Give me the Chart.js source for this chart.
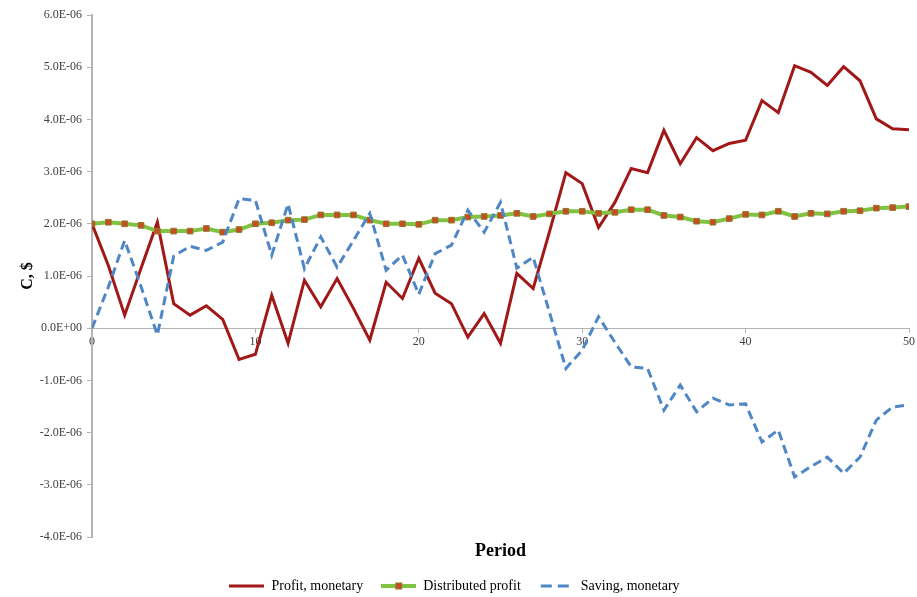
<!DOCTYPE html>
<html>
<head>
<meta charset="utf-8">
<title>Profit and saving by period</title>
<script src="https://cdn.jsdelivr.net/npm/chart.js@4.4.1/dist/chart.umd.min.js"></script>
<style>
  html, body { margin: 0; padding: 0; background: #ffffff; }
  canvas { display: block; }
</style>
</head>
<body>
<canvas id="chart" width="917" height="597"></canvas>
<script>
// Period index (x axis)
const periods = [0, 1, 2, 3, 4, 5, 6, 7, 8, 9, 10,
  11, 12, 13, 14, 15, 16, 17, 18, 19, 20,
  21, 22, 23, 24, 25, 26, 27, 28, 29, 30,
  31, 32, 33, 34, 35, 36, 37, 38, 39, 40,
  41, 42, 43, 44, 45, 46, 47, 48, 49, 50];

// Series values, in units of 1.0E-06 $
const profitMonetary = [2.0, 1.2, 0.25, 1.15, 2.03, 0.47, 0.25, 0.43, 0.17, -0.6, -0.5,
  0.63, -0.29, 0.92, 0.41, 0.95, 0.38, -0.23, 0.88, 0.57, 1.34,
  0.67, 0.47, -0.17, 0.28, -0.29, 1.05, 0.76, 1.85, 2.98, 2.77,
  1.93, 2.41, 3.06, 2.98, 3.79, 3.15, 3.65, 3.40, 3.54, 3.6,
  4.36, 4.13, 5.03, 4.9, 4.65, 5.01, 4.74, 4.01, 3.82, 3.8];

const distributedProfit = [2.0, 2.03, 2.0, 1.97, 1.86, 1.86, 1.86, 1.91, 1.84, 1.89, 2.0,
  2.02, 2.07, 2.08, 2.17, 2.17, 2.17, 2.07, 2.0, 2.0, 1.99,
  2.07, 2.07, 2.13, 2.14, 2.16, 2.2, 2.14, 2.19, 2.24, 2.24,
  2.2, 2.22, 2.27, 2.27, 2.16, 2.13, 2.05, 2.03, 2.1, 2.18,
  2.17, 2.24, 2.14, 2.2, 2.19, 2.24, 2.25, 2.3, 2.31, 2.33];

const savingMonetary = [0, 0.79, 1.68, 0.8, -0.13, 1.38, 1.57, 1.49, 1.65, 2.48, 2.45,
  1.4, 2.38, 1.14, 1.75, 1.17, 1.68, 2.2, 1.11, 1.4, 0.65,
  1.43, 1.59, 2.26, 1.84, 2.41, 1.15, 1.36, 0.3, -0.77, -0.42,
  0.22, -0.27, -0.74, -0.77, -1.57, -1.09, -1.6, -1.34, -1.47, -1.45,
  -2.18, -1.95, -2.85, -2.65, -2.47, -2.78, -2.47, -1.76, -1.51, -1.47];

// Y tick labels, bottom to top
const yTickLabels = ['-4.0E-06', '-3.0E-06', '-2.0E-06', '-1.0E-06', '0.0E+00',
  '1.0E-06', '2.0E-06', '3.0E-06', '4.0E-06', '5.0E-06', '6.0E-06'];

const seriesNames = ['Profit, monetary', 'Distributed profit', 'Saving, monetary'];

const SERIF = '"Liberation Serif", "Times New Roman", serif';
const RED = '#a01818';
const GREEN = '#80c342';
const BLUE = '#4f86c6';
const MARKER_FILL = '#cc4a22';
const MARKER_EDGE = '#8c7a2e';
const AXIS_GREY = '#b4b4b4';

const toPoints = vals => vals.map((v, i) => ({ x: periods[i], y: v }));

// Legend glyphs (35 x 10 px): solid line, line with square marker, dashed line
function makeGlyph(draw) {
  const c = document.createElement('canvas');
  c.width = 35; c.height = 10;
  draw(c.getContext('2d'));
  return c;
}
const legendGlyphs = [
  makeGlyph(g => {
    g.strokeStyle = RED; g.lineWidth = 3;
    g.beginPath(); g.moveTo(0, 5); g.lineTo(35, 5); g.stroke();
  }),
  makeGlyph(g => {
    g.strokeStyle = GREEN; g.lineWidth = 4;
    g.beginPath(); g.moveTo(0, 5); g.lineTo(35, 5); g.stroke();
    g.fillStyle = MARKER_FILL; g.fillRect(14.5, 2, 6, 6);
    g.strokeStyle = MARKER_EDGE; g.lineWidth = 1; g.strokeRect(14.5, 2, 6, 6);
  }),
  makeGlyph(g => {
    g.strokeStyle = BLUE; g.lineWidth = 3;
    g.setLineDash([11, 6]);
    g.beginPath(); g.moveTo(2, 5); g.lineTo(35, 5); g.stroke();
  })
];

new Chart(document.getElementById('chart'), {
  type: 'line',
  data: {
    datasets: [
      {
        label: seriesNames[0],
        data: toPoints(profitMonetary),
        borderColor: RED,
        backgroundColor: RED,
        borderWidth: 3,
        pointRadius: 0,
        tension: 0,
        order: 3
      },
      {
        label: seriesNames[1],
        data: toPoints(distributedProfit),
        borderColor: GREEN,
        backgroundColor: GREEN,
        borderWidth: 4,
        pointStyle: 'rect',
        pointRadius: 4,
        pointBackgroundColor: MARKER_FILL,
        pointBorderColor: MARKER_EDGE,
        pointBorderWidth: 1,
        tension: 0,
        order: 2
      },
      {
        label: seriesNames[2],
        data: toPoints(savingMonetary),
        borderColor: BLUE,
        backgroundColor: BLUE,
        borderWidth: 3,
        borderDash: [9, 5],
        pointRadius: 0,
        tension: 0,
        order: 1
      }
    ]
  },
  options: {
    responsive: false,
    animation: false,
    layout: { padding: { top: 15, right: 8, bottom: 0, left: 0 } },
    scales: {
      x: {
        type: 'linear',
        position: { y: 0 },
        min: 0,
        max: 50,
        ticks: {
          stepSize: 10,
          color: '#404040',
          font: { family: SERIF, size: 12 },
          padding: 2
        },
        grid: { drawOnChartArea: false, drawTicks: true, tickLength: 4, color: AXIS_GREY },
        border: { display: true, color: AXIS_GREY, width: 1 }
      },
      y: {
        type: 'linear',
        min: -4,
        max: 6,
        afterFit: scale => { scale.width = 92; },
        ticks: {
          stepSize: 1,
          color: '#404040',
          font: { family: SERIF, size: 12 },
          padding: 5,
          callback: (value, index) => yTickLabels[index]
        },
        grid: { drawOnChartArea: false, drawTicks: true, tickLength: 5, color: AXIS_GREY },
        border: { display: true, color: AXIS_GREY, width: 2 },
        title: {
          display: true,
          text: 'C, $',
          color: '#000000',
          font: { family: SERIF, size: 16, weight: 'bold' },
          padding: { top: 18, bottom: 0 }
        }
      }
    },
    plugins: {
      title: {
        display: true,
        text: 'Period',
        position: 'bottom',
        fullSize: false,
        weight: 500,
        color: '#000000',
        font: { family: SERIF, size: 18, weight: 'bold', lineHeight: 1 },
        padding: { top: 5, bottom: 1 }
      },
      legend: {
        position: 'bottom',
        maxHeight: 36,
        labels: {
          usePointStyle: true,
          pointStyleWidth: 35,
          color: '#000000',
          font: { family: SERIF, size: 14 },
          padding: 18,
          sort: (a, b) => a.datasetIndex - b.datasetIndex,
          generateLabels: chart => {
            const items = Chart.defaults.plugins.legend.labels.generateLabels(chart);
            items.forEach(item => { item.pointStyle = legendGlyphs[item.datasetIndex]; });
            return items;
          }
        }
      },
      tooltip: { enabled: false }
    }
  }
});
</script>
</body>
</html>
